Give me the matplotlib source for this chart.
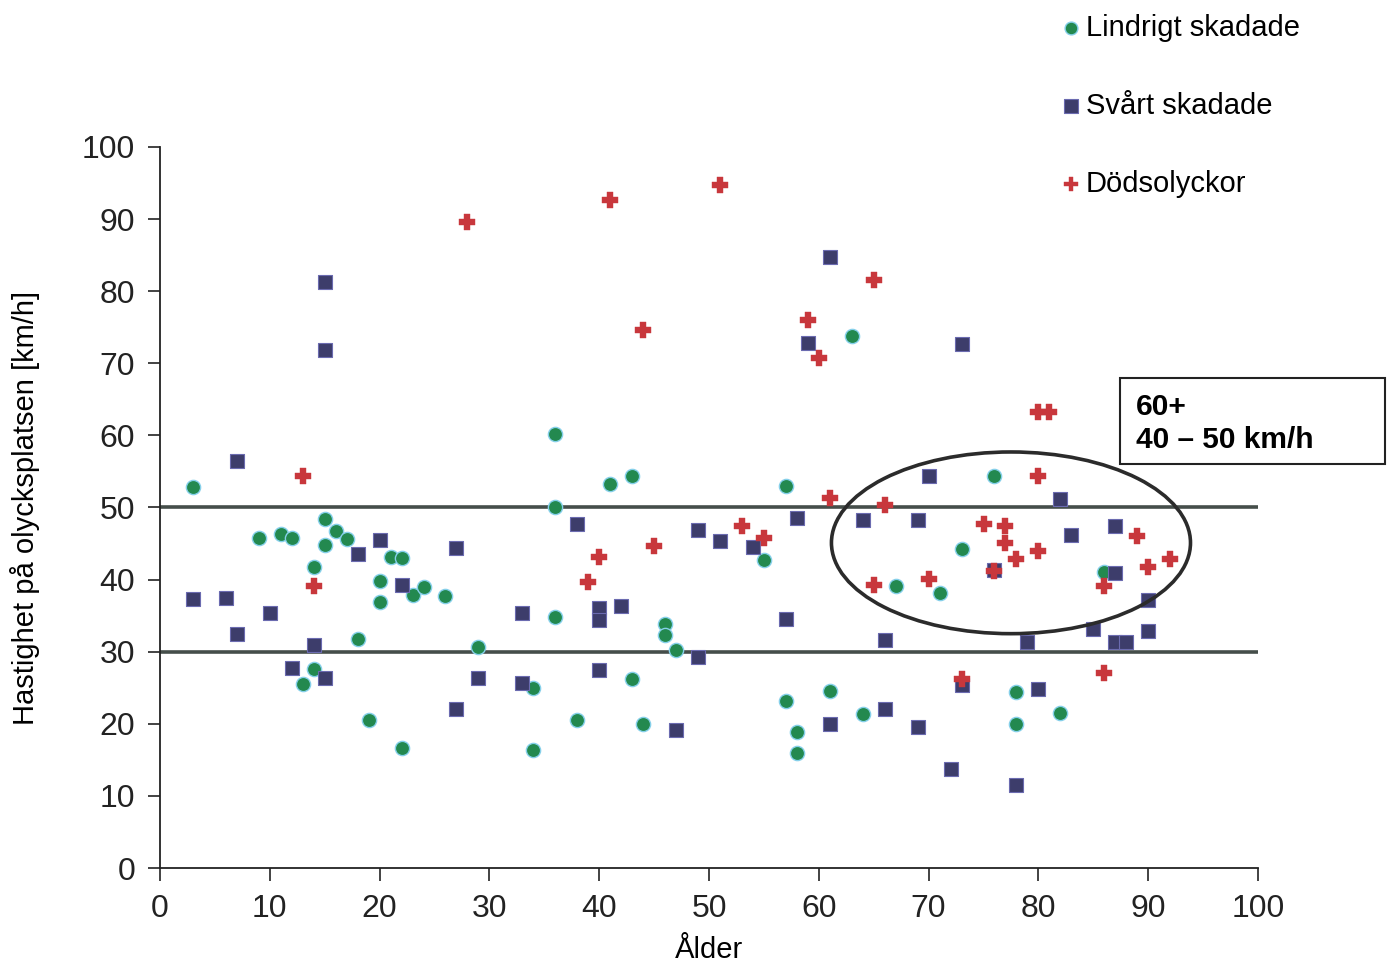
import matplotlib
matplotlib.use('Agg')
import matplotlib.pyplot as plt
from matplotlib import font_manager
from matplotlib.patches import Ellipse, Rectangle

plt.rcParams['font.family'] = ['Liberation Sans', 'DejaVu Sans']

# narrow font for the y label if it is there
try:
    font_manager.findfont('Liberation Sans Narrow', fallback_to_default=False)
    narrow = 'Liberation Sans Narrow'
except Exception:
    narrow = 'Liberation Sans'

# --- data (age, speed) ---
lindrigt_x = [3, 9, 11, 12, 15, 16, 17, 15, 14, 21, 22, 20, 20, 23, 24, 26, 18, 29, 14, 13,
              19, 22, 36, 41, 43, 57, 36, 55, 36, 46, 46, 47, 34, 43, 38, 44, 34, 61, 57, 58,
              58, 63, 76, 73, 67, 71, 86, 64, 78, 78, 82]
lindrigt_y = [52.8, 45.8, 46.3, 45.8, 48.4, 46.7, 45.6, 44.8, 41.7, 43.1, 43.0, 39.8, 36.9, 37.9,
              39.0, 37.7, 31.8, 30.7, 27.6, 25.5, 20.5, 16.6, 60.2, 53.2, 54.4, 53.0, 50.0, 42.7,
              34.8, 33.8, 32.3, 30.3, 24.9, 26.2, 20.5, 20.0, 16.4, 24.6, 23.1, 18.8, 15.9, 73.8,
              54.3, 44.2, 39.1, 38.1, 41.1, 21.3, 24.4, 20.0, 21.5]

svart_x = [7, 20, 18, 27, 22, 3, 6, 10, 7, 14, 12, 15, 29, 27, 15, 15, 38, 49, 51, 54,
           58, 33, 40, 40, 42, 57, 49, 40, 33, 47, 61, 61, 59, 73, 70, 82, 64, 69, 83, 87,
           76, 87, 90, 85, 90, 66, 79, 87, 88, 73, 80, 66, 69, 72, 78]
svart_y = [56.4, 45.5, 43.6, 44.4, 39.2, 37.3, 37.5, 35.3, 32.4, 30.9, 27.8, 26.3, 26.3, 22.1,
           81.3, 71.8, 47.7, 46.9, 45.3, 44.5, 48.6, 35.3, 36.0, 34.4, 36.4, 34.5, 29.3, 27.5,
           25.7, 19.1, 20.0, 84.7, 72.8, 72.7, 54.4, 51.2, 48.3, 48.3, 46.2, 47.4, 41.4, 40.9,
           37.2, 33.2, 32.9, 31.6, 31.4, 31.4, 31.4, 25.4, 24.8, 22.0, 19.6, 13.7, 11.5]

dod_x = [13, 14, 28, 41, 51, 44, 65, 59, 60, 80, 81, 61, 53, 55, 45, 40, 39, 66, 80, 75,
         77, 77, 78, 80, 76, 65, 70, 89, 90, 92, 86, 86, 73]
dod_y = [54.4, 39.1, 89.6, 92.6, 94.7, 74.6, 81.6, 76.0, 70.7, 63.2, 63.2, 51.3, 47.4, 45.8,
         44.7, 43.2, 39.7, 50.3, 54.4, 47.7, 47.5, 45.1, 42.9, 43.9, 41.2, 39.3, 40.1, 46.0,
         41.8, 42.8, 39.1, 27.1, 26.2]

limits = [30, 50]          # speed band lines
ring = (77.5, 45.1, 32.7, 25.2)  # centre x, centre y, width, height

fig = plt.figure(figsize=(13.89, 9.65), dpi=100)
ax = fig.add_axes([0.1152, 0.1005, 0.7905, 0.7472])

for v in limits:
    ax.plot([0, 100], [v, v], color='#454e4a', lw=2.6, zorder=1, solid_capstyle='butt')

ax.scatter(lindrigt_x, lindrigt_y, s=105, marker='o', color='#23894f',
           edgecolors='#86d0ea', linewidths=1.0, zorder=3, label='Lindrigt skadade')
ax.scatter(svart_x, svart_y, s=115, marker='s', color='#3d3d6b',
           edgecolors='#6b6bb0', linewidths=0.8, zorder=3, label='Svårt skadade')
ax.scatter(dod_x, dod_y, s=125, marker='P', color='#c8373c',
           edgecolors='#c8373c', linewidths=0.3, zorder=4, label='Dödsolyckor')

ax.add_patch(Ellipse((ring[0], ring[1]), ring[2], ring[3], fill=False,
                     edgecolor='#2b2b2b', lw=2.6, zorder=5))

ax.set_xlim(0, 100)
ax.set_ylim(0, 100)
ax.set_xticks(range(0, 101, 10))
ax.set_yticks(range(0, 101, 10))
for s in ['top', 'right']:
    ax.spines[s].set_visible(False)
for s in ['left', 'bottom']:
    ax.spines[s].set_linewidth(1.3)
    ax.spines[s].set_color('#222222')
ax.tick_params(direction='out', length=9, width=1.2, colors='#222222',
               labelsize=23, pad=9)
ax.tick_params(axis='x', pad=10)

ax.set_xlabel('Ålder', fontsize=21, labelpad=8)
ax.set_ylabel('Hastighet på olycksplatsen [km/h]', fontsize=21,
              family=[narrow, 'DejaVu Sans'], labelpad=30)

ax.legend(loc='upper left', bbox_to_anchor=(1045 / 1389, 1 - 2 / 965),
          bbox_transform=fig.transFigure, frameon=False, fontsize=21,
          markerscale=0.9, handletextpad=0.0, handlelength=1.0,
          labelspacing=1.72, borderaxespad=0)

# box with the note
fig.add_artist(Rectangle((1120 / 1389, 1 - 464 / 965), 265 / 1389, 86 / 965,
                         transform=fig.transFigure, fill=False,
                         edgecolor='#222222', lw=1.5))
fig.text(1136 / 1389, 1 - 393 / 965, '60+\n40 – 50 km/h', fontsize=21.5,
         fontweight='bold', va='top', ha='left', linespacing=1.25)

fig.savefig('out.png', dpi=100)
